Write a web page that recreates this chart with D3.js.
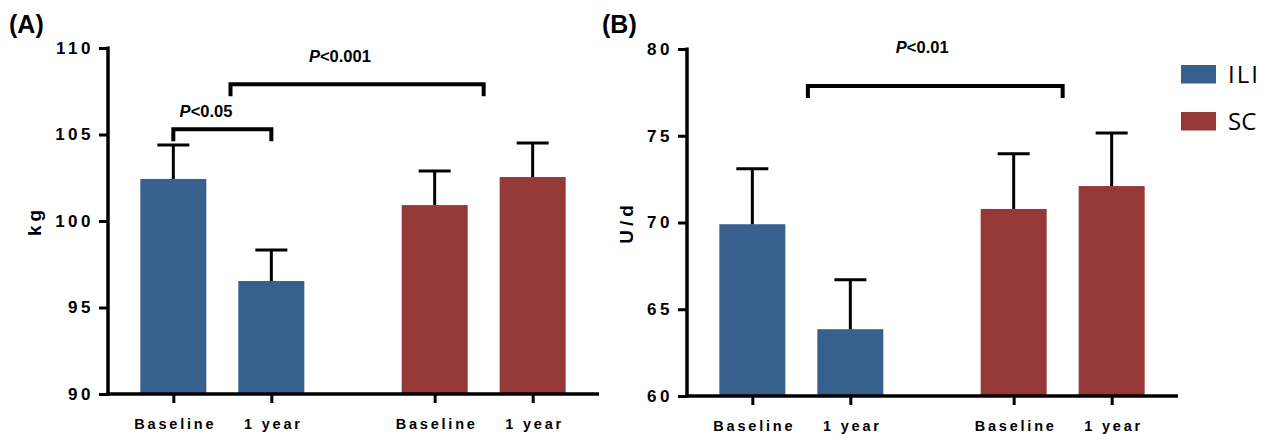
<!DOCTYPE html>
<html>
<head>
<meta charset="utf-8">
<script src="https://cdn.jsdelivr.net/npm/d3@7"></script>
<style>
  body { margin: 0; background: #fff; }
  svg { display: block; }
</style>
</head>
<body>
<div id="app"></div>
<script>
const width = 1266
const height = 434

const categories = ["Baseline", "1 year", "Baseline", "1 year"]
const groups = ["ILI", "ILI", "SC", "SC"]
const xPositions = [2, 5, 10, 13]

const weightMeans = [102.43, 96.53, 100.92, 102.54]
const weightErrors = [1.96, 1.80, 1.97, 1.97]
const weightTicks = [90, 95, 100, 105, 110]

const insulinMeans = [69.9, 63.85, 70.78, 72.1]
const insulinErrors = [3.2, 2.85, 3.18, 3.06]
const insulinTicks = [60, 65, 70, 75, 80]

const weightBrackets = [
    { from: 2, to: 5, value: 105.3, label: "<0.05", lx: 3.0, ly: 106.0 },
    { from: 3.75, to: 11.5, value: 107.9, label: "<0.001", lx: 7.1, ly: 109.2 }
]
const insulinBrackets = [
    { from: 3.7, to: 11.5, value: 77.87, label: "<0.01", lx: 7.2, ly: 79.77 }
]

const legendItems = ["ILI", "SC"]
const colors = { ILI: "#37608f", SC: "#943838" }

const svg = d3.select("#app").append("svg")
    .attr("width", width)
    .attr("height", height)
    .attr("font-family", "'Liberation Sans', Arial, sans-serif")

function drawPanel(o) {
    const x = d3.scaleLinear().domain([0, 15]).range([o.left, o.left + 490])
    const y = d3.scaleLinear().domain(o.domain).range([o.bottom, o.top])
    const g = svg.append("g")

    // bars
    g.selectAll("rect.bar")
        .data(o.means)
        .join("rect")
        .attr("class", "bar")
        .attr("x", (d, i) => x(xPositions[i]) - 33)
        .attr("width", 66)
        .attr("y", d => y(d))
        .attr("height", d => y(o.domain[0]) - y(d))
        .attr("fill", (d, i) => colors[groups[i]])

    // error bars (upper only)
    const err = g.selectAll("g.err")
        .data(o.means)
        .join("g")
        .attr("class", "err")
        .attr("stroke", "#000")
        .attr("stroke-width", 3)
    err.append("line")
        .attr("x1", (d, i) => x(xPositions[i]))
        .attr("x2", (d, i) => x(xPositions[i]))
        .attr("y1", d => y(d))
        .attr("y2", (d, i) => y(d + o.errors[i]))
    err.append("line")
        .attr("x1", (d, i) => x(xPositions[i]) - 16)
        .attr("x2", (d, i) => x(xPositions[i]) + 16)
        .attr("y1", (d, i) => y(d + o.errors[i]))
        .attr("y2", (d, i) => y(d + o.errors[i]))

    // y axis
    const yAxis = g.append("g")
        .attr("transform", `translate(${o.left},0)`)
        .call(d3.axisLeft(y).tickValues(o.ticks).tickSize(9).tickPadding(5).tickSizeOuter(0))
    yAxis.select(".domain").attr("stroke-width", 3.5)
        .attr("d", `M0,${o.bottom + 1.5}V${o.top - 1.5}`)
    yAxis.selectAll(".tick line").attr("stroke-width", 3)
    yAxis.selectAll(".tick text")
        .attr("font-size", 17)
        .attr("font-weight", "bold")
        .attr("letter-spacing", 3.5)
        .attr("fill", "#000")
        .attr("font-family", "'Liberation Sans', Arial, sans-serif")

    // x axis
    const xAxis = g.append("g")
        .attr("transform", `translate(0,${o.bottom})`)
        .call(d3.axisBottom(x).tickValues(xPositions).tickSize(9).tickSizeOuter(0)
            .tickFormat((d, i) => categories[i]))
    xAxis.select(".domain").attr("stroke-width", 3.5)
        .attr("d", `M${o.left - 1.5},0H${o.left + 491}`)
    xAxis.selectAll(".tick line").attr("stroke-width", 3)
    xAxis.selectAll(".tick text")
        .attr("y", 35)
        .attr("dy", 0)
        .attr("dx", 1.5)
        .attr("font-size", 14.5)
        .attr("font-weight", "bold")
        .attr("letter-spacing", 2.8)
        .attr("fill", "#000")
        .attr("font-family", "'Liberation Sans', Arial, sans-serif")

    // y axis title
    g.append("text")
        .attr("transform", `translate(${o.titleX},${(o.top + o.bottom) / 2}) rotate(-90)`)
        .attr("text-anchor", "middle")
        .attr("font-size", 19)
        .attr("font-weight", "bold")
        .attr("letter-spacing", 4)
        .text(o.title)

    // panel label
    g.append("text")
        .attr("x", o.labelX)
        .attr("y", 33)
        .attr("font-size", 25)
        .attr("font-weight", "bold")
        .text(o.panel)

    // significance brackets
    o.brackets.forEach(b => {
        g.append("path")
            .attr("d", `M${x(b.from)},${y(b.value) + 12}V${y(b.value)}H${x(b.to)}V${y(b.value) + 12}`)
            .attr("fill", "none")
            .attr("stroke", "#000")
            .attr("stroke-width", 4)
        const t = g.append("text")
            .attr("x", x(b.lx))
            .attr("y", y(b.ly))
            .attr("text-anchor", "middle")
            .attr("font-size", 16.5)
            .attr("font-weight", "bold")
        t.append("tspan").attr("font-style", "italic").text("P")
        t.append("tspan").text(b.label)
    })
}

drawPanel({
    left: 108, top: 48, bottom: 394, domain: [90, 110],
    means: weightMeans, errors: weightErrors, ticks: weightTicks,
    brackets: weightBrackets, title: "kg", titleX: 41, panel: "(A)", labelX: 9
})

drawPanel({
    left: 687, top: 49, bottom: 396, domain: [60, 80],
    means: insulinMeans, errors: insulinErrors, ticks: insulinTicks,
    brackets: insulinBrackets, title: "U/d", titleX: 633, panel: "(B)", labelX: 602
})

// legend
const legend = svg.append("g")
    .selectAll("g")
    .data(legendItems)
    .join("g")
    .attr("transform", (d, i) => `translate(1181,${65 + i * 47})`)
legend.append("rect")
    .attr("width", 35)
    .attr("height", 18.5)
    .attr("fill", d => colors[d])
legend.append("text")
    .attr("x", 47)
    .attr("y", 18)
    .attr("font-family", "'Open Sans', sans-serif")
    .attr("font-size", 24)
    .attr("letter-spacing", (d, i) => i === 0 ? 2 : 0)
    .text(d => d)
</script>
</body>
</html>
